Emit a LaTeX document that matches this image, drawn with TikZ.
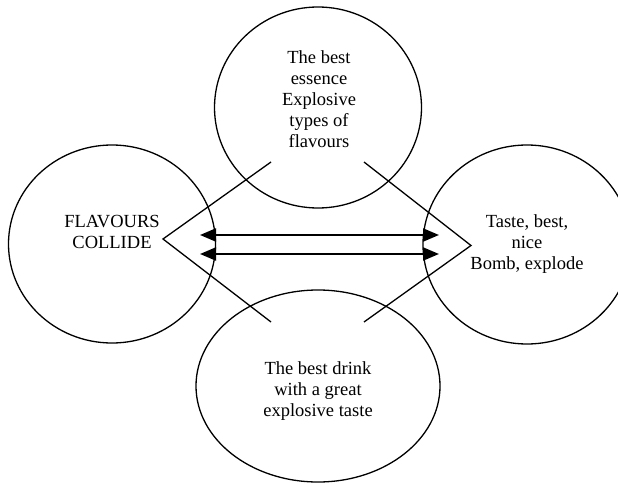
\documentclass[tikz,border=0pt]{standalone}
\usepackage{fontspec}
\setmainfont{Liberation Serif}
\usetikzlibrary{shapes.geometric,arrows.meta}

\tikzset{
  bubble/.style={draw=black, line width=1.3pt, ellipse, inner sep=0pt},
  words/.style={align=center, inner sep=0pt, font=\fontsize{18.5}{21}\selectfont},
  spoke/.style={draw=black, line width=1.3pt},
  twoway/.style={draw=black, line width=2.1pt,
    {Triangle[length=16pt,width=13pt]}-{Triangle[length=16pt,width=13pt]}},
}

\begin{document}
\begin{tikzpicture}[x=1pt,y=-1pt]
  \useasboundingbox (0,0) rectangle (618,484);
  \clip (0,0) rectangle (618,484);

  % four bubbles
  \node[bubble, minimum width=207pt, minimum height=201pt] (top)    at (318,107.5) {};
  \node[bubble, minimum width=207pt, minimum height=198pt] (left)   at (112,244) {};
  \node[bubble, minimum width=208pt, minimum height=199pt] (right)  at (527,244.5) {};
  \node[bubble, minimum width=244pt, minimum height=192pt] (bottom) at (318,386) {};

  % bubble texts
  \node[words] (topText)    at (319,99)  {The best\\essence\\Explosive\\types of\\flavours};
  \node[words] (leftText)   at (112,231.5) {FLAVOURS\\COLLIDE};
  \node[words] (rightText)  at (527,244) {Taste, best,\\nice\\Bomb, explode};
  \node[words] (bottomText) at (318,391) {The best drink\\with a great\\explosive taste};

  % the two open wedges
  \coordinate (lv) at (163,239);
  \coordinate (lu) at (271,162);
  \coordinate (ld) at (271,322);
  \coordinate (rv) at (471,245.5);
  \coordinate (ru) at (364,162);
  \coordinate (rd) at (364,322);
  \draw[spoke] (lu) -- (lv) -- (ld);
  \draw[spoke] (ru) -- (rv) -- (rd);

  % double-headed arrows between the side bubbles
  \coordinate (a1l) at (200,235);
  \coordinate (a1r) at (439,235);
  \coordinate (a2l) at (200,254);
  \coordinate (a2r) at (439,254);
  \draw[twoway] (a1l) -- (a1r);
  \draw[twoway] (a2l) -- (a2r);
\end{tikzpicture}
\end{document}
